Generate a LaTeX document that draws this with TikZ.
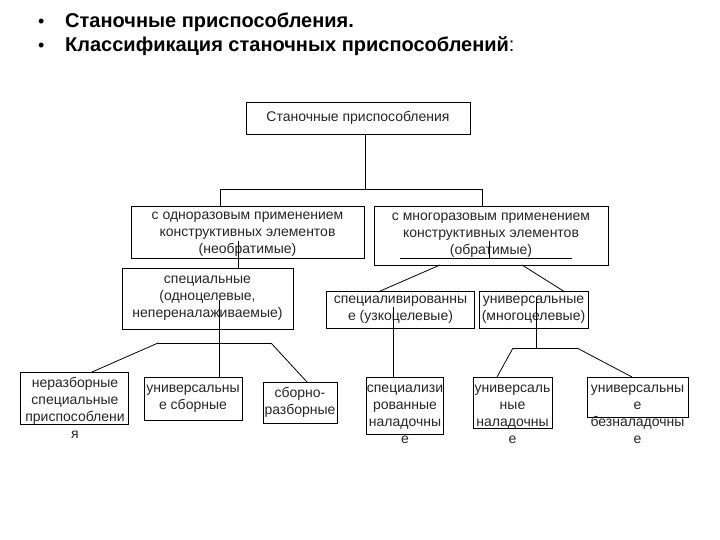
\documentclass[tikz,border=0pt]{standalone}
\usepackage{fontspec}
\setmainfont{Liberation Sans}
\begin{document}
\begin{tikzpicture}[x=1pt,y=-1pt,
  box/.style={draw, line width=0.8pt, inner sep=0pt},
  txt/.style={font=\fontsize{14}{17}\selectfont, align=center, inner sep=0pt, text=black!85},
  ttl/.style={font=\fontsize{20}{24}\selectfont\bfseries, anchor=base west, inner sep=0pt},
  con/.style={line width=0.8pt}]
\useasboundingbox[fill=white] (0,0) rectangle (720,540);

% title
\node[ttl, font=\fontsize{18}{22}\selectfont] (b1) at (38,28) {•};
\node[ttl] (h1) at (65,28) {Станочные приспособления.};
\node[ttl, font=\fontsize{18}{22}\selectfont] (b2) at (38,52) {•};
\node[ttl] (h2) at (65,52) {Классификация станочных приспособлений\mdseries:};

% boxes
\node[box, txt, minimum width=224pt, minimum height=32pt] (top) at (358,118) {Станочные приспособления};
\node[box, minimum width=233pt, minimum height=52pt] (a) at (247.5,232) {};
\node[txt] (at) at (247.5,234.5) {с одноразовым применением\\конструктивных элементов\\(необратимые)};
\node[box, txt, minimum width=234pt, minimum height=59pt] (b) at (491,235.5) {с многоразовым применением\\конструктивных элементов\\(обратимые)};
\node[box, txt, minimum width=171pt, minimum height=61pt] (c) at (207.5,298.5) {специальные\\(одноцелевые,\\непереналаживаемые)};
\node[box, txt, minimum width=148pt, minimum height=37pt] (g) at (400.5,310) {специаливированны\\е (узкоцелевые)};
\node[box, txt, minimum width=109pt, minimum height=37pt] (h) at (533.5,310) {универсальные\\(многоцелевые)};

\node[box, minimum width=108pt, minimum height=52pt] (d) at (74,398) {};
\node[txt] (dt) at (75,407.5) {неразборные\\специальные\\приспособлени\\я};
\node[box, txt, minimum width=98pt, minimum height=43pt] (e) at (193,398.5) {универсальны\\е сборные};
\node[box, txt, minimum width=74pt, minimum height=41pt] (f) at (300,402.5) {сборно-\\разборные};

\node[box, minimum width=77pt, minimum height=57pt] (i) at (404.5,405.5) {};
\node[txt] (it) at (405,414.5) {специализи\\рованные\\наладочны\\е};
\node[box, minimum width=79pt, minimum height=51pt] (j) at (512.5,402.5) {};
\node[txt] (jt) at (512.5,414.5) {универсаль\\ные\\наладочны\\е};
\node[box, minimum width=101pt, minimum height=40pt] (k) at (637.5,397) {};
\node[txt] (kt) at (637.5,414.5) {универсальны\\е\\безналадочны\\е};

% connectors
\coordinate (j0) at (365,189);
\coordinate (jl) at (220,189);
\coordinate (jr) at (482,189);
\draw[con] (top.south -| j0) -- (j0);
\draw[con] (jl) -- (jr);
\draw[con] (jl) -- (jl |- a.north);
\draw[con] (jr) -- (jr |- b.north);

\coordinate (ta) at (238,241);
\draw[con] (ta) -- (ta |- c.north);

\coordinate (tb) at (489,241);
\coordinate (lb1) at (400,258);
\coordinate (lb2) at (572,258);
\draw[con] (tb) -- (tb |- lb1);
\draw[con] (lb1) -- (lb2);
\coordinate (bl) at (440,265);
\coordinate (br) at (522,265);
\coordinate (gt) at (378,292);
\coordinate (ht) at (565,292);
\draw[con] (bl) -- (gt);
\draw[con] (br) -- (ht);

\coordinate (tc) at (219,300);
\coordinate (cl) at (158,343);
\coordinate (cr) at (271,343);
\draw[con] (tc) -- (tc |- e.north);
\draw[con] (cl) -- (cr);
\draw[con] (cl) -- (92,372);
\draw[con] (cr) -- (307,382);

\coordinate (tg) at (393,307);
\draw[con] (tg) -- (tg |- i.north);

\coordinate (th) at (536,297);
\coordinate (hl) at (513,348);
\coordinate (hr) at (577,348);
\draw[con] (th) -- (th |- hl);
\draw[con] (hl) -- (hr);
\draw[con] (hl) -- (497,377);
\draw[con] (hr) -- (632,377);
\end{tikzpicture}
\end{document}
